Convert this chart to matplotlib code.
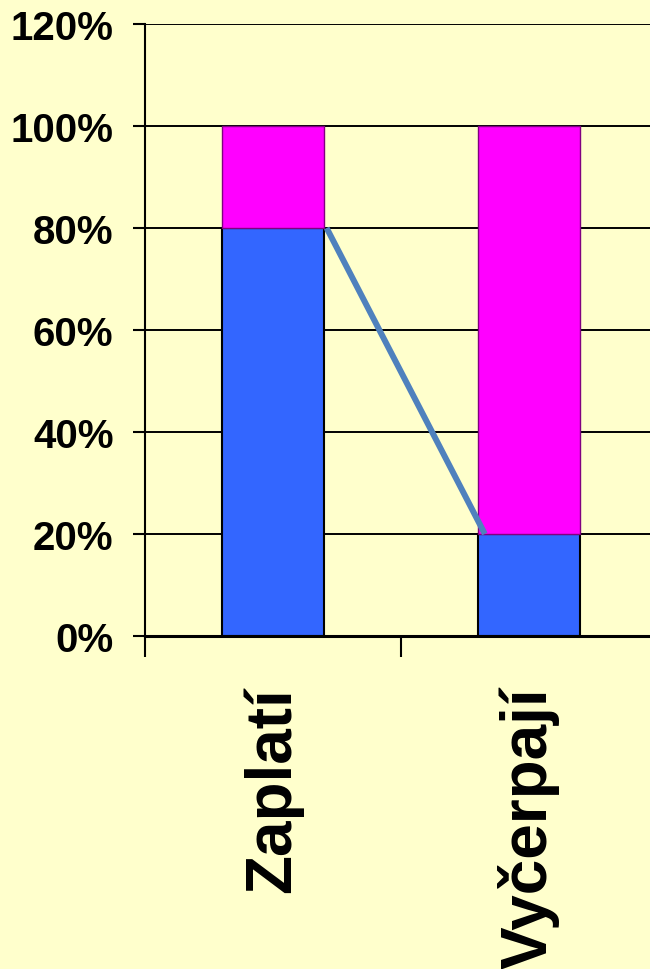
import matplotlib
matplotlib.use("Agg")
import matplotlib.pyplot as plt
from matplotlib.ticker import FuncFormatter

categories = ["Zaplatí", "Vyčerpají"]
blue_values = [80, 20]
magenta_values = [20, 80]
y_ticks = [0, 20, 40, 60, 80, 100, 120]

BG = "#FFFFCC"
BLUE = "#3366FF"
MAGENTA = "#FF00FF"
LINE = "#4F81BD"

plt.rcParams['font.family'] = ['Liberation Sans', 'DejaVu Sans']
plt.rcParams['font.weight'] = 'bold'

fig = plt.figure(figsize=(6.5, 9.7), dpi=100, facecolor=BG)
ax = fig.add_axes([145/650, 333/970, 512/650, 612/970])
ax.set_facecolor(BG)

x = list(range(len(categories)))
w = 0.395
ax.bar(x, blue_values, width=w, color=BLUE, edgecolor="black", linewidth=1.5, zorder=3)
ax.bar(x, magenta_values, width=w, bottom=blue_values, color=MAGENTA,
       edgecolor="#800080", linewidth=1.0, zorder=3)

# series line connecting tops of the blue segments
ax.plot([x[0] + w/2 + 0.012, x[1] - w/2 + 0.025], [blue_values[0], blue_values[1]],
        color=LINE, linewidth=4.3, zorder=4, solid_capstyle='butt')

ax.set_xlim(-0.5, 1.5)
ax.set_ylim(0, 120)
ax.set_yticks(y_ticks)
ax.yaxis.set_major_formatter(FuncFormatter(lambda v, p: f"{int(v)}%"))
ax.grid(axis='y', color='black', linewidth=1.4, zorder=1)
ax.set_axisbelow(True)

ax.set_xticks(x)
ax.set_xticklabels(categories, rotation=90, fontsize=46, fontweight='bold')
ax.tick_params(axis='x', which='major', length=0, pad=36)
ax.set_xticks([-0.5, 0.5, 1.5], minor=True)
ax.tick_params(axis='x', which='minor', length=15, width=1.5, direction='out', color='black')

ax.tick_params(axis='y', which='major', length=8.6, width=1.5, direction='out', pad=14,
               labelsize=29)
for lab in ax.get_yticklabels():
    lab.set_fontweight('bold')

for s in ['top', 'right']:
    ax.spines[s].set_visible(False)
ax.spines['left'].set_linewidth(1.5)
ax.spines['bottom'].set_linewidth(2.2)
ax.spines['left'].set_zorder(5)
ax.spines['bottom'].set_zorder(5)

fig.savefig("out.png", dpi=100, facecolor=BG)
